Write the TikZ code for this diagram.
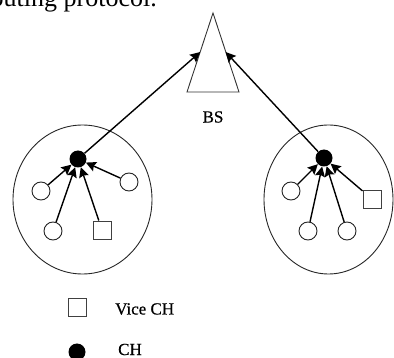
\documentclass[tikz,border=0pt]{standalone}
\usepackage{fontspec}
\setmainfont{Liberation Serif}
\newfontfamily\labelfont[FakeBold=0.6]{Liberation Serif}
\usetikzlibrary{arrows.meta}

\begin{document}
\begin{tikzpicture}[x=1pt,y=-1pt,
  member/.style={circle,draw=black!85,line width=0.9pt,fill=white,minimum size=18pt,inner sep=0pt},
  vice/.style={rectangle,draw=black!75,line width=0.9pt,fill=white,minimum size=18pt,inner sep=0pt},
  head/.style={circle,fill=black,minimum size=17pt,inner sep=0pt},
  cluster/.style={draw=black!85,line width=0.9pt},
  link/.style={line width=1.4pt,-{Stealth[length=10pt,width=10pt,inset=1.5pt]}},
  uplink/.style={line width=1.4pt,-{Stealth[length=10pt,width=10pt,inset=1.5pt]}},
  lbl/.style={font=\labelfont\fontsize{17}{20}\selectfont,inner sep=0pt}
]
\useasboundingbox (0,0) rectangle (394,358);

% caption line running above the figure
\node[anchor=base east,font=\fontsize{26}{30}\selectfont,inner sep=0pt] (cap) at (157,6.5) {routing protocol.};

% base station
\draw[line width=0.9pt,draw=black!80] (213,13) -- (187,92) -- (239,92) -- cycle;
\coordinate (bsL) at (200.2,52);
\coordinate (bsR) at (225.6,52);
\node[lbl] (bs) at (213,117) {BS};

% clusters
\draw[cluster] (82.5,199.5) ellipse [x radius=69.5,y radius=74.5];
\draw[cluster] (328.5,199.5) ellipse [x radius=64.5,y radius=74.5];

% left cluster
\node[head] (ch1) at (78,159) {};
\node[member] (l1) at (41,191) {};
\node[member] (l2) at (129,182) {};
\node[member] (l3) at (53,231) {};
\node[vice] (lv) at (102,230) {};

% right cluster
\node[head] (ch2) at (324,158) {};
\node[member] (r1) at (291,191) {};
\node[member] (r2) at (308,231) {};
\node[member] (r3) at (347,231) {};
\node[vice] (rv) at (372,199) {};

% member to head links
\foreach \m in {l1,l2,l3,lv} \draw[link] (\m) -- (ch1);
\foreach \m in {r1,r2,r3,rv} \draw[link] (\m) -- (ch2);

% head to base station links
\draw[uplink] (ch1) -- (bsL);
\draw[uplink] (ch2) -- (bsR);

% legend
\node[vice] (keyvice) at (77,307) {};
\node[lbl,anchor=west] (keyvicetxt) at (115,309) {Vice CH};
\node[head] (keyhead) at (77,352) {};
\node[lbl,anchor=west] (keyheadtxt) at (118,349.5) {CH};
\end{tikzpicture}
\end{document}
